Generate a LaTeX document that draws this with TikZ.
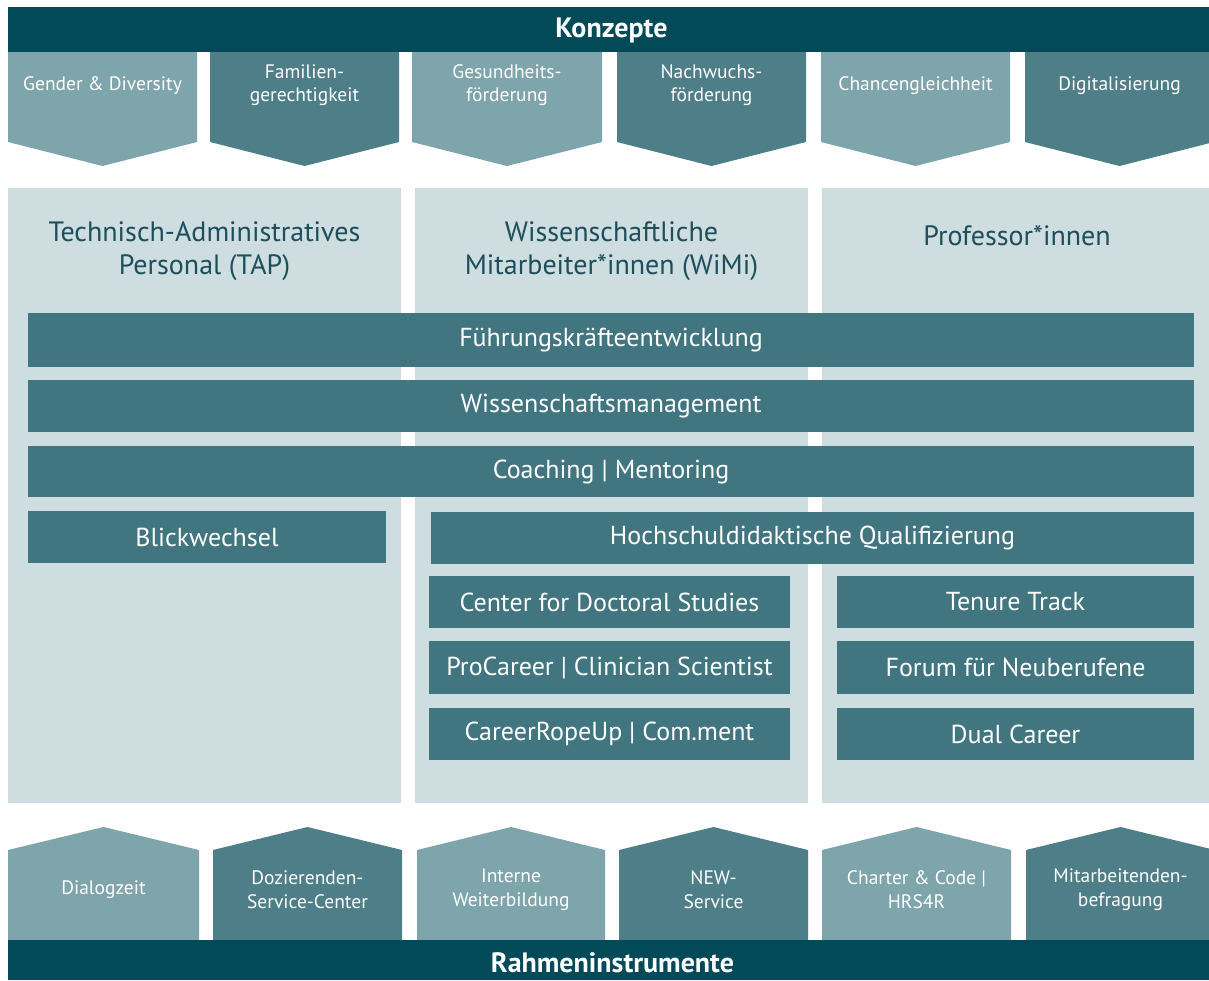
\documentclass[tikz,border=0pt]{standalone}
\usepackage{fontspec}
\setmainfont{PT Sans}
\definecolor{headc}{HTML}{024A57}
\definecolor{chl}{HTML}{7EA5AB}
\definecolor{chd}{HTML}{4E7E88}
\definecolor{colbg}{HTML}{CEDDE0}
\definecolor{barc}{HTML}{41757F}
\definecolor{titlec}{HTML}{1D4E5B}
\begin{document}
\begin{tikzpicture}[x=1pt,y=-1pt,
  headtext/.style={text=white,font=\bfseries\fontsize{28}{32}\selectfont,inner sep=0pt},
  chtext/.style={text=white,align=center,font=\fontsize{19.5}{23}\selectfont,inner sep=0pt},
  coltitle/.style={text=titlec,align=center,font=\fontsize{28}{33}\selectfont,inner sep=0pt},
  bar/.style={fill=barc,text=white,font=\fontsize{26}{30}\selectfont,inner sep=0pt,
    minimum height=52pt},
]
\useasboundingbox[fill=white] (0,0) rectangle (1209,980);

% top header
\fill[headc] (8,7) rectangle (1209,52);
\node[headtext] (konz) at (611.5,30) {Konzepte};

% concept chevrons
\foreach \a/\b/\c/\n/\t in {
  8/197/chl/k1/{Gender \& Diversity},
  210/399/chd/k2/{Familien-\\gerechtigkeit},
  412/602/chl/k3/{Gesundheits-\\förderung},
  617/806/chd/k4/{Nachwuchs-\\förderung},
  821/1010/chl/k5/{Chancengleichheit},
  1025/1214/chd/k6/{Digitalisierung}} {
  \fill[\c] (\a,52) -- (\b,52) -- (\b,142) -- ({(\a+\b)/2},166) -- (\a,142) -- cycle;
  \node[chtext] (\n) at ({(\a+\b)/2},85.5) {\t};
}

% staff group columns
\fill[colbg] (8,188) rectangle (401,803);
\fill[colbg] (415,188) rectangle (808,803);
\fill[colbg] (822,188) rectangle (1209,803);
\node[coltitle] (tap) at (204.5,251) {Technisch-Administratives\\Personal (TAP)};
\node[coltitle] (wimi) at (611.5,251) {Wissenschaftliche\\Mitarbeiter*innen (WiMi)};
\node[coltitle] (prof) at (1017,236) {Professor*innen};

% programme bars
\node[bar,minimum width=1166pt,minimum height=54pt] (fk) at (611,340) {Führungskräfteentwicklung};
\node[bar,minimum width=1166pt] (wm) at (611,406) {Wissenschaftsmanagement};
\node[bar,minimum width=1166pt,minimum height=51pt] (cm) at (611,471.5) {Coaching | Mentoring};
\node[bar,minimum width=358pt] (bw) at (207,537) {Blickwechsel};
\node[bar,minimum width=763pt] (hq) at (812.5,538) {Hochschuldidaktische Qualifizierung};
\node[bar,minimum width=361pt] (cds) at (609.5,602) {Center for Doctoral Studies};
\node[bar,minimum width=361pt,minimum height=53pt] (pc) at (609.5,667.5) {ProCareer | Clinician Scientist};
\node[bar,minimum width=361pt] (cr) at (609.5,734) {CareerRopeUp | Com.ment};
\node[bar,minimum width=357pt] (tt) at (1015.5,602) {Tenure Track};
\node[bar,minimum width=357pt,minimum height=53pt] (fn) at (1015.5,667.5) {Forum für Neuberufene};
\node[bar,minimum width=357pt] (dc) at (1015.5,734) {Dual Career};

% framework instruments
\foreach \a/\b/\c/\n/\t in {
  8/199/chl/r1/{Dialogzeit},
  213/402/chd/r2/{Dozierenden-\\Service-Center},
  417/605/chl/r3/{Interne\\Weiterbildung},
  619/808/chd/r4/{NEW-\\Service},
  822/1011/chl/r5/{Charter \& Code |\\HRS4R},
  1026/1215/chd/r6/{Mitarbeitenden-\\befragung}} {
  \fill[\c] (\a,941) -- (\a,850) -- ({(\a+\b)/2},827) -- (\b,850) -- (\b,941) -- cycle;
  \node[chtext,font=\fontsize{19.5}{24}\selectfont] (\n) at ({(\a+\b)/2},889.5) {\t};
}

% bottom footer
\fill[headc] (8,940) rectangle (1209,980);
\node[headtext] (rahmen) at (612.5,963) {Rahmeninstrumente};
\end{tikzpicture}
\end{document}
